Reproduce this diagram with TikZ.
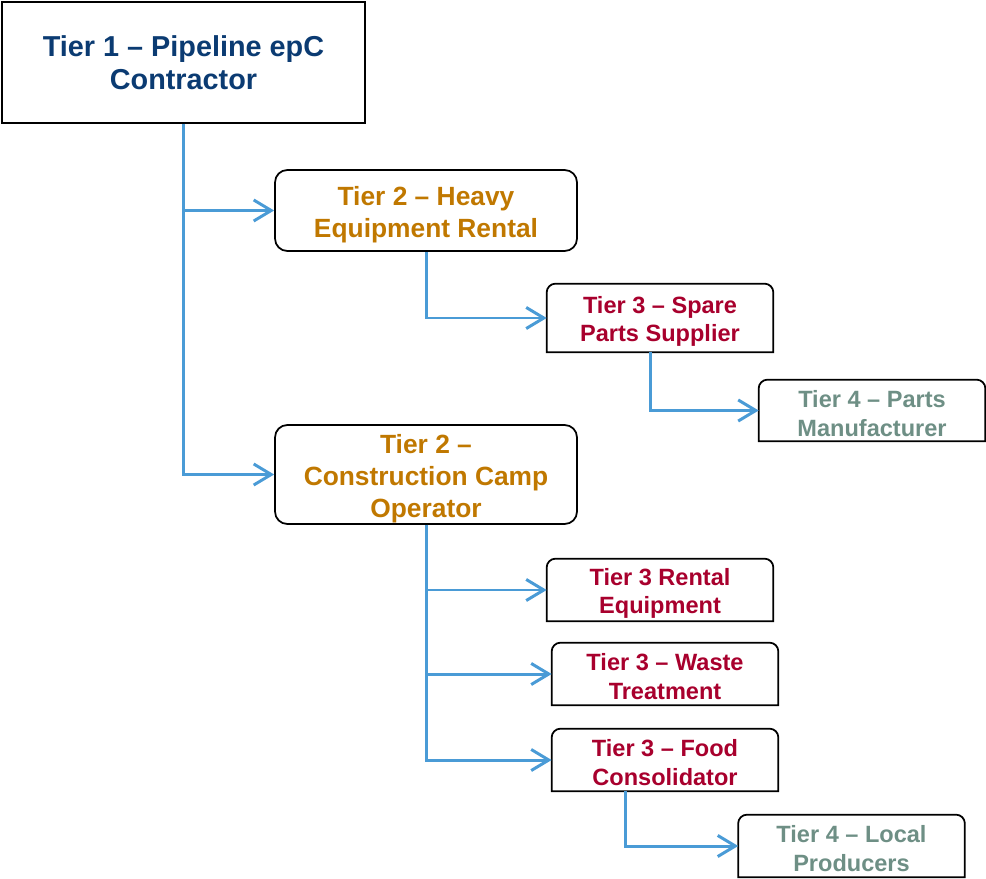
\documentclass[tikz,border=0pt]{standalone}
\usepackage{fontspec}
\setmainfont{Liberation Sans}
\usetikzlibrary{arrows.meta}
\definecolor{tieronecol}{HTML}{0B3B72}
\definecolor{tiertwocol}{HTML}{C07800}
\definecolor{tierthreecol}{HTML}{A8002D}
\definecolor{tierfourcol}{HTML}{6E8F85}
\definecolor{linkblue}{HTML}{4A9BD6}
\begin{document}
\begin{tikzpicture}[x=0.02cm, y=-0.02cm,
    link/.style={draw=linkblue, line width=1.7pt, -{Straight Barb[length=10pt,width=12pt]}},
    tierone/.style={draw, line width=1.1pt, minimum width=7.26cm, minimum height=2.42cm, align=center,
        text=tieronecol, font=\fontsize{16.4}{18.7}\selectfont\bfseries},
    tiertwo/.style={draw, rounded corners=7pt, line width=1pt, minimum width=6.04cm, inner ysep=0pt, align=center,
        text=tiertwocol, font=\fontsize{15}{18.2}\selectfont\bfseries},
    tierthree/.style={minimum width=4.52cm, minimum height=1.24cm, inner ysep=0pt, align=center,
        text=tierthreecol, font=\fontsize{13.4}{16.4}\selectfont\bfseries},
    tierfour/.style={tierthree, text=tierfourcol}]
    \useasboundingbox (0,0) rectangle (986,878);
    % tier 1 and tier 2
    \node[tierone] (tier1) at (183.5,62.5) {Tier 1 – Pipeline epC\\Contractor};
    \node[tiertwo, minimum height=1.62cm] (heavy) at (426,210.5) {\rule{0pt}{15.5pt}Tier 2 – Heavy\\Equipment Rental};
    \node[tiertwo, minimum height=1.98cm] (camp) at (426,474.5) {\rule{0pt}{15.5pt}Tier 2 –\\Construction Camp\\Operator};
    % tier 3 and tier 4
    \node[tierthree, minimum height=1.36cm] (spare) at (660,318) {\rule{0pt}{13.5pt}Tier 3 – Spare\\Parts Supplier};
    \node[tierfour, minimum height=1.22cm] (parts) at (872,410.5) {\rule{0pt}{13pt}Tier 4 – Parts\\Manufacturer};
    \node[tierthree] (rental) at (660,590) {\rule{0pt}{13.5pt}Tier 3 Rental\\Equipment};
    \node[tierthree] (waste) at (665,674) {\rule{0pt}{13pt}Tier 3 – Waste\\Treatment};
    \node[tierthree] (food) at (665,760) {\rule{0pt}{13pt}Tier 3 – Food\\Consolidator};
    \node[tierfour] (local) at (851.5,846) {\rule{0pt}{13pt}Tier 4 – Local\\Producers};
    \foreach \n in {spare,parts,rental,waste,food,local}
        \draw[line width=1pt] (\n.south west) -- ([yshift=-5pt]\n.north west)
            arc[start angle=180, end angle=90, radius=5pt] -- ([xshift=-5pt]\n.north east)
            arc[start angle=90, end angle=0, radius=5pt] -- (\n.south east) -- cycle;
    % connectors
    \draw[link] (tier1.south) |- (heavy.west);
    \draw[link] (tier1.south) |- (camp.west);
    \draw[link] (heavy.south) |- (spare.west);
    \draw[link] ([xshift=-0.2cm]spare.south) |- (parts.west);
    \draw[link] (camp.south) |- (rental.west);
    \draw[link] (camp.south) |- (waste.west);
    \draw[link] (camp.south) |- (food.west);
    \draw[link] ([xshift=-0.8cm]food.south) |- (local.west);
\end{tikzpicture}
\end{document}
